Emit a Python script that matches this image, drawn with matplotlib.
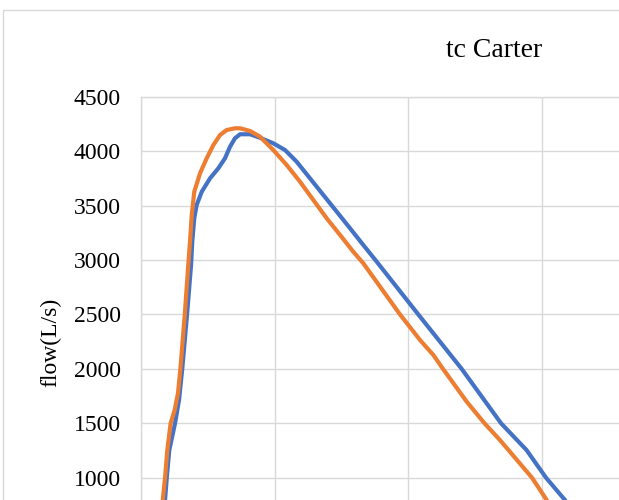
import matplotlib
matplotlib.use('Agg')
import matplotlib.pyplot as plt
from matplotlib.patches import Rectangle

# values (x in arbitrary units, gridline every 10)
x_blue = [1.65, 1.80, 1.93, 2.12, 2.55, 2.85, 3.09, 3.45, 3.75, 3.84, 3.99, 4.17, 4.55,
          5.17, 5.79, 6.29, 6.67, 7.04, 7.42, 8.17, 8.91, 9.91, 10.79, 11.66,
          12.66, 13.66, 14.66, 15.66, 16.65, 17.66, 20.77, 24.02,
          26.97, 28.88, 30.34, 31.76, 33.03]
y_blue = [400, 795, 1000, 1254, 1500, 1714, 2000, 2500, 2954, 3168, 3383, 3505, 3627,
          3750, 3842, 3934, 4041, 4118, 4155, 4155, 4123, 4072, 4010, 3903,
          3750, 3597, 3444, 3291, 3138, 2984, 2500, 2000,
          1500, 1254, 1000, 795, 500]

x_orange = [1.42, 1.63, 1.80, 1.97, 2.22, 2.52, 2.77, 2.95, 3.28, 3.54, 3.67, 3.80, 3.99,
            4.42, 4.92, 5.42, 5.92, 6.42, 7.04, 7.42, 8.17, 8.91, 9.91, 10.91, 11.91,
            12.91, 13.91, 14.91, 15.90, 16.65, 19.40, 20.90, 21.90, 22.62, 24.40,
            25.73, 26.89, 29.29, 30.39, 31.76]
y_orange = [400, 795, 1000, 1254, 1500, 1622, 1776, 2000, 2500, 2954, 3168, 3413, 3627,
            3796, 3934, 4056, 4148, 4194, 4210, 4210, 4185, 4133, 4010, 3873, 3719,
            3551, 3383, 3230, 3076, 2970, 2500, 2265, 2127, 2000, 1698,
            1500, 1346, 1000, 795, 500]

yticks = [0, 500, 1000, 1500, 2000, 2500, 3000, 3500, 4000, 4500]
ytick_labels = ['', '', '1000', '1500', '2000', '2500', '3000', '3500', '4000', '4500']
grey = '#D9D9D9'
serif = 'Liberation Serif'

W, H = 619, 500
fig = plt.figure(figsize=(W / 100, H / 100), dpi=100)

# chart border, runs off the right and bottom edge
fig.patches.append(Rectangle((3 / W, -0.5), 2, 1 - 10 / H + 0.5, transform=fig.transFigure,
                             fill=False, edgecolor=grey, linewidth=1.0))

# plot area: left edge at px 141, 4500 at px 96.7, 0 at px 586.6
left, top, bottom = 141 / W, 1 - 96.7 / H, 1 - 586.6 / H
ax = fig.add_axes([left, bottom, 801 / W, top - bottom])
ax.plot(x_blue, y_blue, color='#4472C4', linewidth=3.0, solid_capstyle='round',
        solid_joinstyle='round')
ax.plot(x_orange, y_orange, color='#ED7D31', linewidth=3.0, solid_capstyle='round',
        solid_joinstyle='round')

ax.set_xlim(0, 60)
ax.set_ylim(0, 4500)
ax.set_yticks(yticks)
ax.set_yticklabels(ytick_labels)
ax.set_xticks(range(0, 61, 10))
ax.set_xticklabels([])
ax.grid(True, color=grey, linewidth=1.0)
ax.set_axisbelow(True)
for s in ['right', 'bottom']:
    ax.spines[s].set_visible(False)
for s in ['left', 'top']:
    ax.spines[s].set_color(grey)
    ax.spines[s].set_linewidth(1.0)
ax.tick_params(axis='both', length=0)
ax.tick_params(axis='y', pad=14.4, labelsize=17)
for lab in ax.get_yticklabels():
    lab.set_fontfamily(serif)

fig.text(51 / W, 1 - 342 / H, 'flow(L/s)', rotation=90, ha='center', va='center',
         fontsize=17, family=serif)
fig.text(494 / W, 1 - 57.3 / H, 'tc Carter', ha='center', va='baseline',
         fontsize=20, family=serif)

fig.savefig('out.png', dpi=100)
